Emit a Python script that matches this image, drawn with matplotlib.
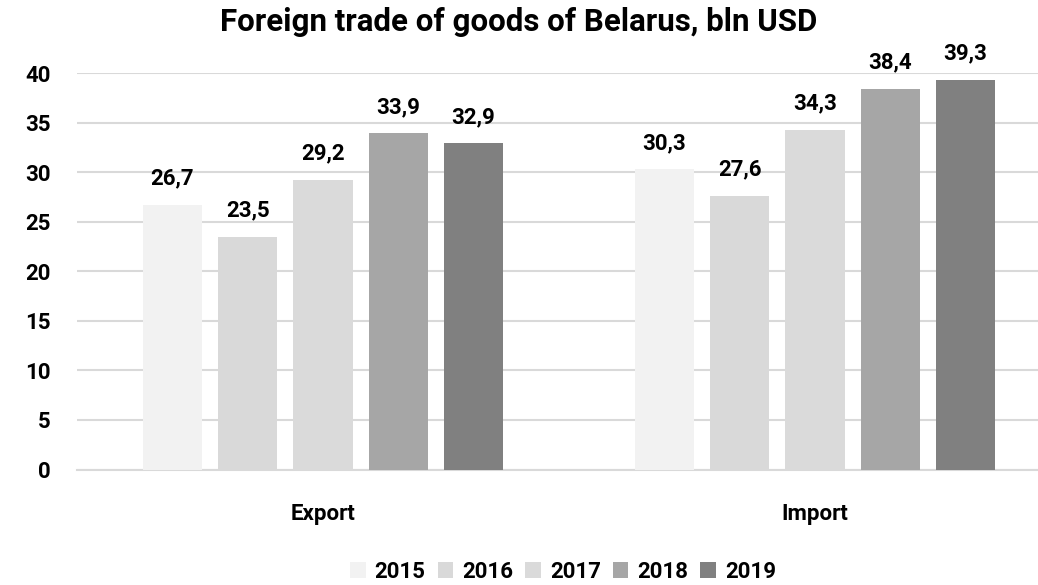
import matplotlib
matplotlib.use("Agg")
import numpy as np
import matplotlib.pyplot as plt

plt.rcParams['font.family'] = ['Roboto', 'DejaVu Sans']
plt.rcParams['font.weight'] = 'bold'

categories = ["Export", "Import"]
years = ["2015", "2016", "2017", "2018", "2019"]
values = {
    "2015": [26.7, 30.3],
    "2016": [23.5, 27.6],
    "2017": [29.2, 34.3],
    "2018": [33.9, 38.4],
    "2019": [32.9, 39.3],
}
colors = ["#F2F2F2", "#D9D9D9", "#DADADA", "#A6A6A6", "#808080"]
yticks = [0, 5, 10, 15, 20, 25, 30, 35, 40]

fig = plt.figure(figsize=(10.38, 5.85), dpi=100)
ax = fig.add_axes([77 / 1038, 115.5 / 585, 984 / 1038, 396.5 / 585])

x = np.arange(len(categories))
slot = 0.153
width = 0.12
for i, (yr, c) in enumerate(zip(years, colors)):
    pos = x + (i - 2) * slot
    bars = ax.bar(pos, values[yr], width=width, color=c, label=yr, zorder=3)
    for b, v in zip(bars, values[yr]):
        ax.annotate(f"{v:.1f}".replace(".", ","),
                    (b.get_x() + b.get_width() / 2, b.get_height()),
                    xytext=(0, 11), textcoords="offset points",
                    ha="center", va="bottom", fontsize=16,
                    annotation_clip=False)

ax.set_xlim(-0.5, 1.5)
ax.set_ylim(0, 40)
ax.set_yticks(yticks)
ax.set_yticklabels([str(t) for t in yticks], fontsize=16)
ax.set_xticks(x)
ax.set_xticklabels(categories, fontsize=16)
ax.tick_params(axis="y", length=0, pad=19)
ax.tick_params(axis="x", length=0, pad=24)
ax.grid(axis="y", color="#D9D9D9", linewidth=1.5, zorder=0)
for s in ["top", "right", "left"]:
    ax.spines[s].set_visible(False)
ax.spines["bottom"].set_color("#D9D9D9")
ax.spines["bottom"].set_linewidth(1.5)

fig.text(519 / 1038, 1 - 22 / 585, "Foreign trade of goods of Belarus, bln USD",
         ha="center", va="center", fontsize=22.5)

fig.legend(loc="center", bbox_to_anchor=(563 / 1038, 1 - 572 / 585), ncol=5,
           frameon=False, handlelength=0.7, handleheight=0.7,
           handletextpad=0.4, columnspacing=0.55,
           prop={"size": 16, "weight": "bold"})

fig.savefig("out.png", dpi=100)
